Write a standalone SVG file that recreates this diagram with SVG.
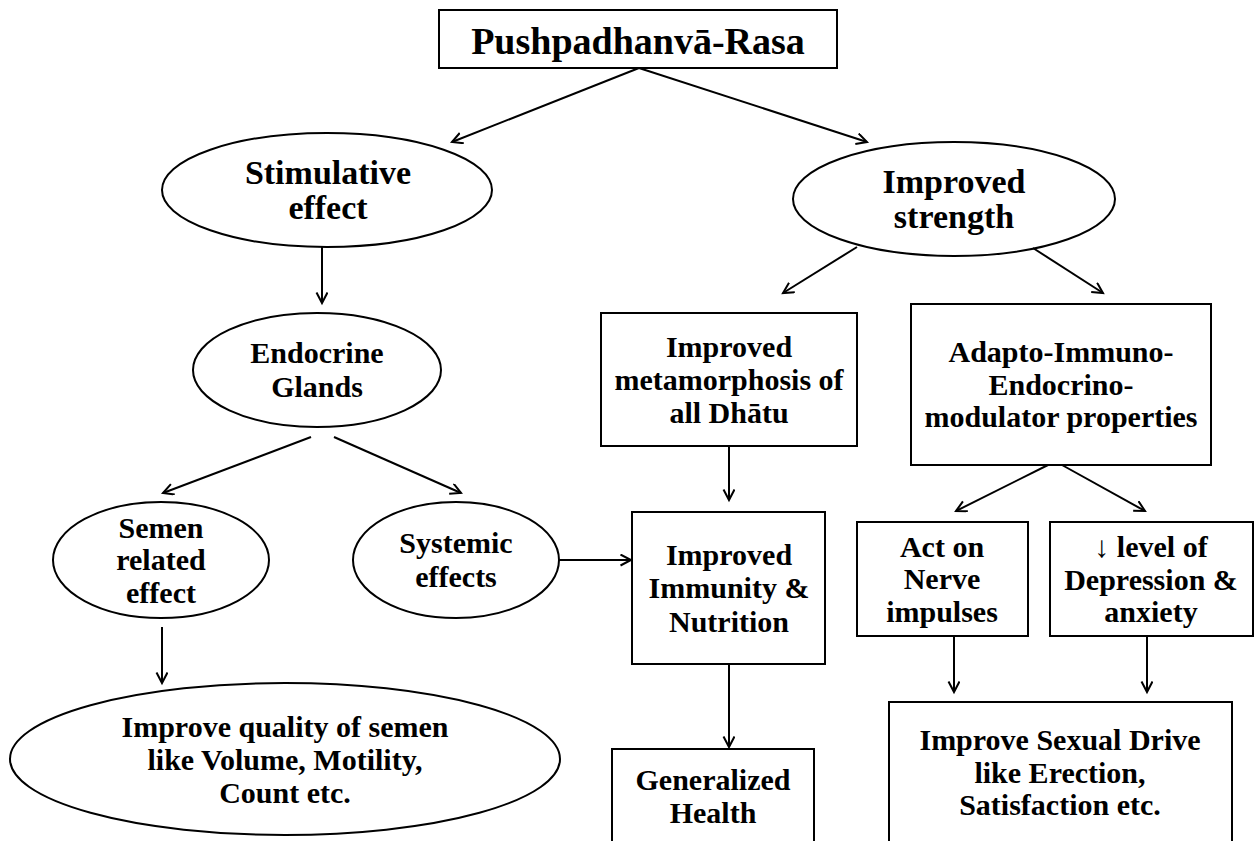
<svg xmlns="http://www.w3.org/2000/svg" width="1256" height="841" viewBox="0 0 1256 841">
<style>
.shape{fill:#fff;stroke:#000;stroke-width:2}
.t{font-family:"Liberation Serif","Times New Roman",serif;font-weight:bold;font-size:30px;fill:#000;text-anchor:middle}
.big{font-size:34px}
.title{font-size:38px}
.conn line{stroke:#000;stroke-width:2;marker-end:url(#arr)}
</style>
<defs>
<marker id="arr" markerUnits="userSpaceOnUse" markerWidth="14" markerHeight="14" refX="11" refY="6" orient="auto">
<path d="M0.5,0.5 L11,6 L0.5,11.5" fill="none" stroke="#000" stroke-width="2"/>
</marker>
</defs>
<rect width="1256" height="841" fill="#fff"/>
<g id="n-title"><rect class="shape" x="439" y="10" width="398" height="58"/><text class="t title" x="638" y="54">Pushpadhanvā-Rasa</text></g>
<g id="n-stimulative"><ellipse class="shape" cx="327" cy="190" rx="165" ry="57"/><text class="t big" x="328" y="184">Stimulative</text><text class="t big" x="328" y="219">effect</text></g>
<g id="n-strength"><ellipse class="shape" cx="954" cy="199" rx="161" ry="57"/><text class="t big" x="954" y="193">Improved</text><text class="t big" x="954" y="228">strength</text></g>
<g id="n-endocrine"><ellipse class="shape" cx="317" cy="370" rx="124" ry="57"/><text class="t" x="317" y="363">Endocrine</text><text class="t" x="317" y="397">Glands</text></g>
<g id="n-semen"><ellipse class="shape" cx="161" cy="560" rx="108" ry="58"/><text class="t" x="161" y="538">Semen</text><text class="t" x="161" y="570">related</text><text class="t" x="161" y="603">effect</text></g>
<g id="n-systemic"><ellipse class="shape" cx="456" cy="560" rx="103" ry="58"/><text class="t" x="456" y="553">Systemic</text><text class="t" x="456" y="587">effects</text></g>
<g id="n-quality"><ellipse class="shape" cx="285" cy="759" rx="275" ry="76"/><text class="t" x="285" y="737">Improve quality of semen</text><text class="t" x="285" y="770">like Volume, Motility,</text><text class="t" x="285" y="803">Count etc.</text></g>
<g id="n-metamorphosis"><rect class="shape" x="601" y="313" width="256" height="133"/><text class="t" x="729" y="357">Improved</text><text class="t" x="729" y="390">metamorphosis of</text><text class="t" x="729" y="423">all Dhātu</text></g>
<g id="n-adapto"><rect class="shape" x="911" y="304" width="300" height="161"/><text class="t" x="1061" y="362">Adapto-Immuno-</text><text class="t" x="1061" y="395">Endocrino-</text><text class="t" x="1061" y="427">modulator properties</text></g>
<g id="n-immunity"><rect class="shape" x="632" y="512" width="193" height="152"/><text class="t" x="729" y="565">Improved</text><text class="t" x="729" y="598">Immunity &amp;</text><text class="t" x="729" y="632">Nutrition</text></g>
<g id="n-nerve"><rect class="shape" x="857" y="522" width="171" height="114"/><text class="t" x="942" y="557">Act on</text><text class="t" x="942" y="589">Nerve</text><text class="t" x="942" y="622">impulses</text></g>
<g id="n-depression"><rect class="shape" x="1050" y="522" width="203" height="114"/><text class="t" x="1151" y="557">↓ level of</text><text class="t" x="1151" y="590">Depression &amp;</text><text class="t" x="1151" y="622">anxiety</text></g>
<g id="n-health"><rect class="shape" x="612" y="749" width="202" height="110"/><text class="t" x="713" y="790">Generalized</text><text class="t" x="713" y="823">Health</text></g>
<g id="n-sexual"><rect class="shape" x="889" y="702" width="343" height="160"/><text class="t" x="1060" y="750">Improve Sexual Drive</text><text class="t" x="1060" y="783">like Erection,</text><text class="t" x="1060" y="815">Satisfaction etc.</text></g>
<g id="connectors" class="conn">
<line x1="639" y1="68" x2="452" y2="142"/>
<line x1="639" y1="68" x2="867" y2="142"/>
<line x1="322" y1="247" x2="322" y2="303"/>
<line x1="311" y1="437" x2="163" y2="493"/>
<line x1="334" y1="437" x2="461" y2="493"/>
<line x1="162" y1="627" x2="162" y2="683"/>
<line x1="559" y1="560" x2="631" y2="560"/>
<line x1="857" y1="247" x2="783" y2="293"/>
<line x1="1033" y1="248" x2="1103" y2="293"/>
<line x1="729" y1="446" x2="729" y2="500"/>
<line x1="1048" y1="465" x2="956" y2="511"/>
<line x1="1062" y1="465" x2="1145" y2="511"/>
<line x1="729" y1="664" x2="729" y2="747"/>
<line x1="954" y1="636" x2="954" y2="692"/>
<line x1="1147" y1="636" x2="1147" y2="692"/>
</g>
</svg>
